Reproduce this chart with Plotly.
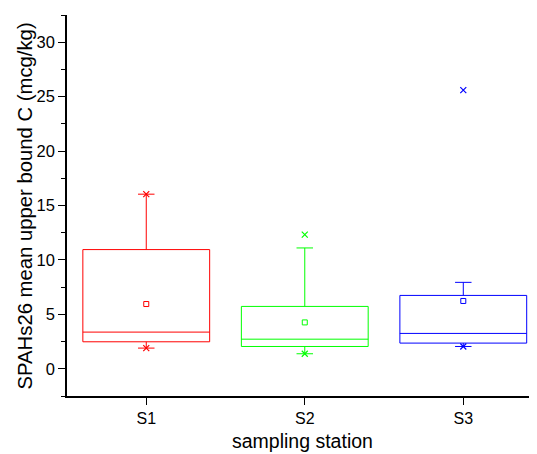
import plotly.graph_objects as go

stations = ["S1", "S2", "S3"]
colors = ["#FF0000", "#00FF00", "#0000FF"]
q1 = [2.48, 2.05, 2.36]
median = [3.37, 2.72, 3.25]
q3 = [10.95, 5.73, 6.74]
lower_whisker = [1.9, 1.38, 2.05]
upper_whisker = [16.04, 11.1, 7.94]
means = [5.95, 4.26, 6.23]
min_vals = [1.9, 1.38, 2.05]
max_vals = [16.04, 12.33, 25.6]
y_ticks = [0, 5, 10, 15, 20, 25, 30]
x_title = "sampling station"
y_title = "SPAHs26 mean upper bound C (mcg/kg)"

fig = go.Figure()
for i, s in enumerate(stations):
    fig.add_trace(go.Box(
        x=[s], q1=[q1[i]], median=[median[i]], q3=[q3[i]],
        lowerfence=[lower_whisker[i]], upperfence=[upper_whisker[i]],
        width=0.8, whiskerwidth=0.13,
        line=dict(color=colors[i], width=1),
        fillcolor="rgba(0,0,0,0)", boxpoints=False, showlegend=False,
    ))
    fig.add_trace(go.Scatter(
        x=[s], y=[means[i]], mode="markers",
        marker=dict(symbol="square-open", size=5, color=colors[i], line=dict(width=1, color=colors[i])),
        showlegend=False,
    ))
    fig.add_trace(go.Scatter(
        x=[s, s], y=[min_vals[i], max_vals[i]], mode="markers",
        marker=dict(symbol="x-thin-open", size=6, color=colors[i], line=dict(width=1.2, color=colors[i])),
        showlegend=False,
    ))

font_family = "Liberation Sans, Arial, sans-serif"
fig.update_layout(
    width=529, height=446, autosize=False,
    margin=dict(l=59, r=0, t=7, b=58),
    plot_bgcolor="white", paper_bgcolor="white",
    font=dict(family=font_family, size=16, color="#000"),
    xaxis=dict(
        type="category", categoryorder="array", categoryarray=stations,
        range=[-0.5, 2.465], showline=True, linecolor="black", linewidth=1.5,
        ticks="outside", ticklen=7, tickwidth=1.2, tickcolor="black",
        tickfont=dict(size=16),
        showgrid=False, zeroline=False, automargin=False,
    ),
    yaxis=dict(
        range=[-2.5, 32.5], tickvals=y_ticks,
        showline=True, linecolor="black", linewidth=1.5,
        ticks="outside", ticklen=7, tickwidth=1.2, tickcolor="black",
        tickfont=dict(size=16.5),
        minor=dict(ticks="outside", ticklen=4, tickwidth=1, tickcolor="black", dtick=2.5, tick0=0),
        showgrid=False, zeroline=False, automargin=False,
    ),
    annotations=[
        dict(text=x_title, xref="paper", yref="paper", x=0.5, y=-0.117,
             xanchor="center", yanchor="middle", showarrow=False, font=dict(size=19.5)),
        dict(text=y_title, xref="paper", yref="paper", x=-0.0894, y=0.5, textangle=-90,
             xanchor="center", yanchor="middle", showarrow=False, font=dict(size=20.3)),
    ],
)

fig.write_html("out.html")
